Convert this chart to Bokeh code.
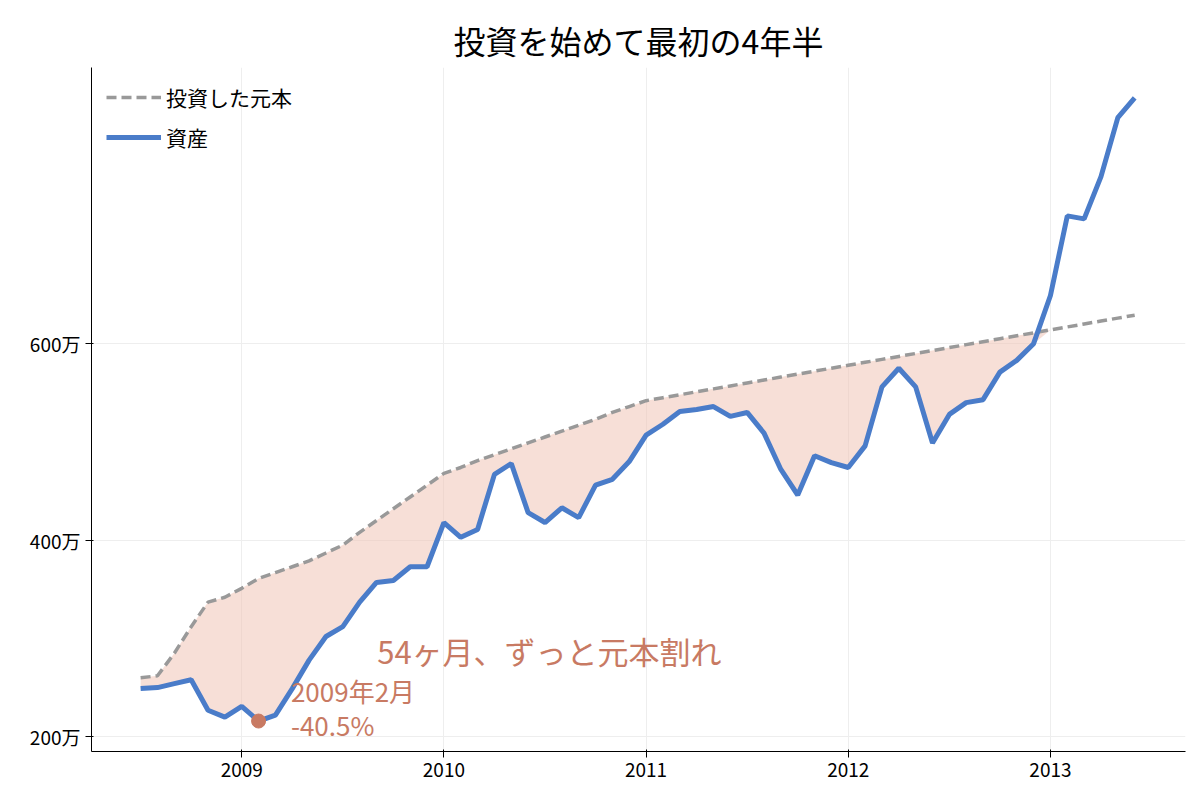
from bokeh.plotting import figure
from bokeh.embed import file_html
from bokeh.resources import INLINE
from bokeh.models import FixedTicker, Range1d, Legend, LegendItem, Label
import numpy as np

asset = [249,250,254,258,227,220,231,216,222,249,278,302,312,337,357,359,373,373,418,403,
         411,467,478,428,418,433,423,456,462,480,507,518,531,533,536,526,530,509,472,446,
         486,479,474,496,556,575,556,499,528,540,543,571,583,600,649,730,727,770,830,850]
principal = [260,262,285,312,337,342,351,361,367,373,379,387,395,408,420,432,444,456,468,474,
             481,487,493,499,505,511,517,523,530,536,542,545,548,551,554,557,560,563,566,569,
             572,575,578,581,584,587,590,593,596,599,602,605,608,611,614,617,620,623,626,629]
x = [2008.5 + i / 12 for i in range(len(asset))]
year_ticks = [2009, 2010, 2011, 2012, 2013]
y_ticks = [200, 400, 600]
y_labels = {200: "200万", 400: "400万", 600: "600万"}

FONT = "Noto Sans CJK JP"
ACC = "#c87a63"
p = figure(width=1192, height=784, output_backend="svg", toolbar_location=None,
           x_range=Range1d(2008.257, 2013.668), y_range=Range1d(185, 881),
           min_border_left=91, min_border_right=7, min_border_top=67, min_border_bottom=33)
p.title.text = "投資を始めて最初の4年半"
p.title.text_font = FONT
p.title.text_font_size = "32px"
p.title.text_font_style = "normal"
p.title.text_color = "black"
p.title.align = "center"
p.outline_line_color = None
p.xaxis.ticker = FixedTicker(ticks=year_ticks)
p.yaxis.ticker = FixedTicker(ticks=y_ticks)
p.yaxis.major_label_overrides = y_labels
for ax in (p.xaxis, p.yaxis):
    ax.major_label_text_font = FONT
    ax.major_label_text_font_size = "19px"
    ax.major_label_text_color = "black"
    ax.minor_tick_line_color = None
    ax.axis_line_color = "black"
    ax.major_tick_line_color = "black"
p.grid.grid_line_color = "#eeeeee"

lo = np.minimum(asset, principal)
p.varea(x=x, y1=lo, y2=principal, fill_color="#f0c4b6", fill_alpha=0.55)
r1 = p.line(x, principal, line_color="#999999", line_width=3.5, line_dash="10 5")
r2 = p.line(x, asset, line_color="#4a7cc9", line_width=5)
p.scatter([x[7]], [asset[7]], size=14, color=ACC)

leg = Legend(items=[LegendItem(label="投資した元本", renderers=[r1]),
                    LegendItem(label="資産", renderers=[r2])],
             location="top_left", border_line_color=None, background_fill_alpha=0,
             label_text_font=FONT, label_text_font_size="21px", label_text_color="black",
             glyph_width=55, spacing=10, margin=15)
p.add_layout(leg)

p.add_layout(Label(x=x[7] + 0.16, y=228, text="2009年2月", text_color=ACC,
                   text_font=FONT, text_font_size="26px"))
p.add_layout(Label(x=x[7] + 0.16, y=194, text="-40.5%", text_color=ACC,
                   text_font=FONT, text_font_size="26px"))
p.add_layout(Label(x=2009.67, y=265, text="54ヶ月、ずっと元本割れ", text_color=ACC,
                   text_font=FONT, text_font_size="31px"))

open("out.html", "w").write(file_html(p, INLINE))
